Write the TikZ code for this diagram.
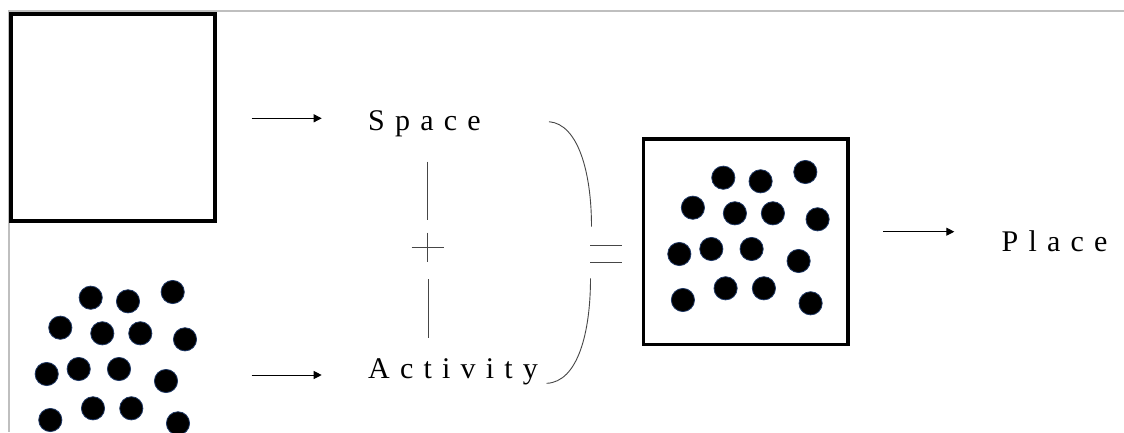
\documentclass[tikz,border=0pt]{standalone}
\usepackage{fontspec}
\setmainfont{Liberation Serif}
\usetikzlibrary{arrows.meta}
\definecolor{framegray}{RGB}{191,191,191}
\definecolor{dotrim}{RGB}{31,56,100}
\definecolor{thinline}{RGB}{70,70,70}
\newcommand\gp{\hspace{10.2pt}}
\begin{document}
\begin{tikzpicture}[x=1pt,y=-1pt,
  label text/.style={anchor=base west,inner sep=0pt,font=\fontsize{30}{36}\selectfont},
  boxshape/.style={draw=black,fill=white,inner sep=0pt},
  flowarrow/.style={line width=1pt,-{Triangle[length=8pt,width=8pt]}},
  thin stroke/.style={draw=thinline,line width=0.9pt},
  dot/.style={fill=black,draw=dotrim,line width=0.8pt}]
\useasboundingbox (0,0) rectangle (1124,432);
\fill[white] (0,0) rectangle (1124,432);

% page frame
\draw[framegray,line width=2pt] (8,11) -- (1124,11);
\draw[framegray,line width=2pt] (9,10) -- (9,432);

% empty square standing for space
\node[boxshape,line width=4pt,minimum width=203.2pt,minimum height=207pt] (spacebox) at (112.9,117.5) {};

% scattered dots standing for activity
\def\dotlist{90.7/297.7,128/301.3,172.7/292,60.3/327.7,102.3/333.3,140.3/333.3,185/339.3,46.7/374,78.7/369,119/369,166/381,50.3/420,93/408.3,131.3/408.3,178/423.3}
\foreach \px/\py in \dotlist {\draw[dot] (\px,\py) circle[radius=11.6];}

% place: the square holding the dots
\node[boxshape,line width=3.5pt,minimum width=204.3pt,minimum height=205.7pt] (placebox) at (745.85,241.85) {};
\begin{scope}[shift={(632.6,-120)}]
\foreach \px/\py in \dotlist {\draw[dot] (\px,\py) circle[radius=11.6];}
\end{scope}

% labels
\node[label text] (space) at (368,130) {S\gp p\gp a\gp c\gp e};
\node[label text] (activity) at (368,378) {A\gp c\gp t\gp i\gp v\gp i\gp t\gp y};
\node[label text] (place) at (1001.5,251.7) {P\gp l\gp a\gp c\gp e};

% arrows
\coordinate (a1s) at (251.7,118.3); \coordinate (a1e) at (321.7,118.3);
\coordinate (a2s) at (251.7,375);   \coordinate (a2e) at (321.7,375);
\coordinate (a3s) at (883.3,231.7); \coordinate (a3e) at (954.3,231.7);
\draw[flowarrow] (a1s) -- (a1e);
\draw[flowarrow] (a2s) -- (a2e);
\draw[flowarrow] (a3s) -- (a3e);

% plus sign with its stems
\coordinate (v1a) at (427.5,161.7); \coordinate (v1b) at (427.5,220);
\coordinate (v2a) at (428.5,279.3); \coordinate (v2b) at (428.5,338.3);
\coordinate (ph1) at (411.7,247.7); \coordinate (ph2) at (444,247.7);
\coordinate (pv1) at (427.7,232.7); \coordinate (pv2) at (427.7,261.7);
\draw[thin stroke] (v1a) -- (v1b);
\draw[thin stroke] (v2a) -- (v2b);
\draw[thin stroke] (ph1) -- (ph2);
\draw[thin stroke] (pv1) -- (pv2);

% closing bracket
\coordinate (b1s) at (549,121.7); \coordinate (b1e) at (591.5,226.7);
\coordinate (b2s) at (590.5,278.3); \coordinate (b2e) at (546.7,383.3);
\draw[thin stroke] (b1s) .. controls (578,124) and (591.5,172) .. (b1e);
\draw[thin stroke] (b2s) .. controls (590.5,332) and (578,382) .. (b2e);

% equals sign
\coordinate (e1a) at (590,245); \coordinate (e1b) at (621.7,245);
\coordinate (e2a) at (590,262.3); \coordinate (e2b) at (621.7,262.3);
\draw[thin stroke] (e1a) -- (e1b);
\draw[thin stroke] (e2a) -- (e2b);
\end{tikzpicture}
\end{document}
